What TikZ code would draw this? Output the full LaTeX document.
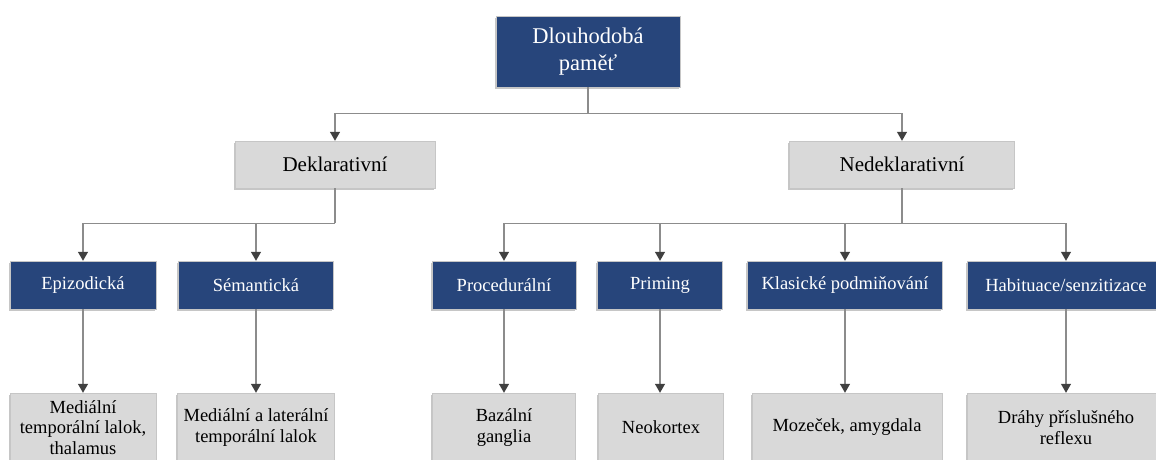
\documentclass[tikz,border=0pt]{standalone}
\usepackage{fontspec}
\setmainfont{Liberation Serif}
\usetikzlibrary{arrows.meta}
\usetikzlibrary{shadows}
\definecolor{darkblue}{HTML}{27457B}
\definecolor{lightgray}{HTML}{D9D9D9}
\definecolor{linegray}{HTML}{8C8C8C}
\definecolor{tipgray}{HTML}{404040}
\tikzset{
  part/.style={
    draw=gray!45,
    rectangle,
    align=center,
    inner sep=2pt,
    drop shadow={shadow xshift=-1.2pt,shadow yshift=-1.5pt,fill=gray,opacity=0.45},
  },
  memory/.style={
    part,
    fill=darkblue,
    text=white,
    minimum width=184pt,
    minimum height=71pt,
    node font=\fontsize{22.5}{27}\selectfont,
  },
  kind/.style={
    part,
    fill=lightgray,
    minimum height=47pt,
    node font=\fontsize{21}{25}\selectfont,
  },
  type/.style={
    part,
    fill=darkblue,
    text=white,
    minimum height=48pt,
    node font=\fontsize{18.5}{21}\selectfont,
  },
  region/.style={
    part,
    fill=lightgray,
    minimum height=69pt,
    node font=\fontsize{18.5}{20.5}\selectfont,
  },
  branch/.style={
    draw=linegray,
    line width=1.2pt,
  },
  flow/.style={
    branch,
    -{Triangle[width=10pt,length=9pt,color=tipgray]},
  },
}
\begin{document}
\begin{tikzpicture}[x=1pt,y=-1pt]
  \useasboundingbox (0,0) rectangle (1156,459);

  % top
  \node (memory) [memory] at (588,51.5) {Dlouhodobá\\paměť};

  % declarative / nondeclarative
  \node (decl)   [kind,minimum width=200pt] at (335,164.5) {Deklarativní};
  \node (nondecl)[kind,minimum width=225pt] at (902,164.5) {Nedeklarativní};

  % memory types
  \node (episodic)   [type,minimum width=146pt] at (83,285)   {Epizodická};
  \node (semantic)   [type,minimum width=155pt] at (256,285)  {Sémantická};
  \node (procedural) [type,minimum width=144pt] at (504,285)  {Procedurální};
  \node (priming)    [type,minimum width=125pt] at (660,285)  {Priming};
  \node (classical)  [type,minimum width=195pt] at (845,285)  {Klasické podmiňování};
  \node (habituation)[type,minimum width=198pt] at (1066,285) {Habituace/senzitizace};

  % brain regions
  \node (episodic r)    [region,minimum width=146pt] at (83,427.5)   {Mediální\\temporální lalok,\\thalamus};
  \node (semantic r)    [region,minimum width=157pt] at (256,427.5)  {Mediální a laterální\\temporální lalok};
  \node (procedural r)  [region,minimum width=143pt] at (504,427.5)  {Bazální\\ganglia};
  \node (priming r)     [region,minimum width=125pt] at (661,427.5)  {Neokortex};
  \node (classical r)   [region,minimum width=190pt] at (847,427.5)  {Mozeček, amygdala};
  \node (habituation r) [region,minimum width=198pt] at (1066,427.5) {Dráhy příslušného\\reflexu};

  \path [branch] (memory.south) -- ++(0,26) coordinate (memory split);
  \path [flow] (memory split) -| (decl.north);
  \path [flow] (memory split) -| (nondecl.north);

  \path [branch] (decl.south) -- ++(0,35) coordinate (decl split);
  \path [flow] (decl split) -| (episodic.north);
  \path [flow] (decl split) -| (semantic.north);

  \path [branch] (nondecl.south) -- ++(0,35) coordinate (nondecl split);
  \path [flow] (nondecl split) -| (procedural.north);
  \path [flow] (nondecl split) -| (priming.north);
  \path [flow] (nondecl split) -| (classical.north);
  \path [flow] (nondecl split) -| (habituation.north);

  \foreach \t in {episodic,semantic,procedural,priming,classical,habituation}
    \path [flow] (\t.south) -- (\t.south |- \t\space r.north);
\end{tikzpicture}
\end{document}
